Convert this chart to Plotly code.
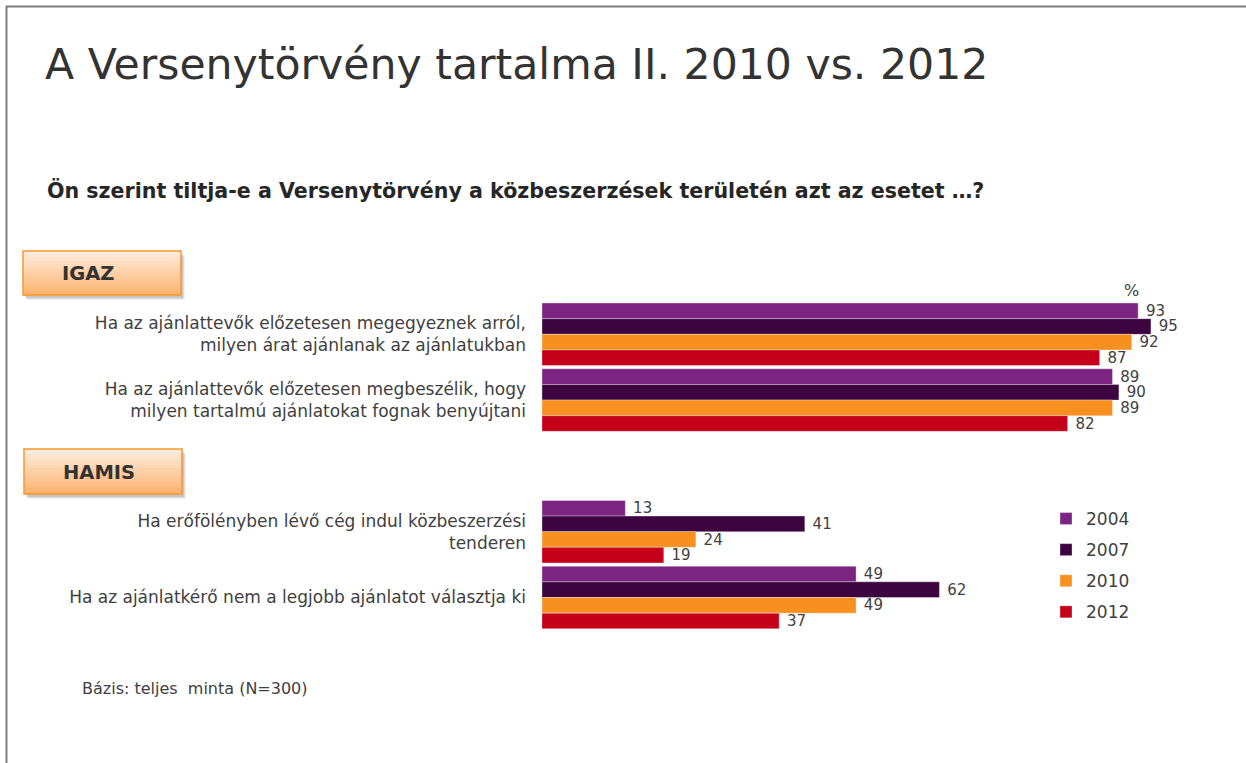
import plotly.graph_objects as go

W, H = 1246, 763

categories = [
    "Ha az ajánlattevők előzetesen megegyeznek arról,<br>milyen árat ajánlanak az ajánlatukban",
    "Ha az ajánlattevők előzetesen megbeszélik, hogy<br>milyen tartalmú ajánlatokat fognak benyújtani",
    "Ha erőfölényben lévő cég indul közbeszerzési<br>tenderen",
    "Ha az ajánlatkérő nem a legjobb ajánlatot választja ki",
]
sections = ["IGAZ", "IGAZ", "HAMIS", "HAMIS"]
years = ["2004", "2007", "2010", "2012"]
v2004 = [93, 89, 13, 49]
v2007 = [95, 90, 41, 62]
v2010 = [92, 89, 24, 49]
v2012 = [87, 82, 19, 37]
series = [v2004, v2007, v2010, v2012]
colors = ["#7B2481", "#3C0540", "#F7901E", "#C5001A"]

# slot positions: leave an empty slot between the IGAZ and HAMIS blocks
slots = []
s = 0
prev = sections[0]
for sec in sections:
    if sec != prev:
        s += 1
        prev = sec
    slots.append(s)
    s += 1

FONT = "DejaVu Sans"
TXT = "#404040"

fig = go.Figure()
for yr, vals, col in zip(years, series, colors):
    fig.add_trace(go.Bar(
        y=slots, x=vals, name=yr, orientation="h",
        marker=dict(color=col, line=dict(color="rgba(255,255,255,0.55)", width=0.6)),
        text=vals, texttemplate="\u00a0%{x}", textposition="outside",
        textfont=dict(family=FONT, size=15, color=TXT),
        cliponaxis=False, constraintext="none",
        legendgroup=yr,
    ))


def px(x):
    return x / W


def py(y):
    return 1 - y / H


shapes = []
# frame lines
shapes.append(dict(type="line", xref="paper", yref="paper", x0=px(6), x1=px(1246), y0=py(6.5), y1=py(6.5),
                   line=dict(color="#7F7F7F", width=2)))
shapes.append(dict(type="line", xref="paper", yref="paper", x0=px(6.5), x1=px(6.5), y0=py(6), y1=py(763),
                   line=dict(color="#7F7F7F", width=2)))


def label_box(x0, y0, x1, y1):
    out = []
    # soft shadow
    for off, a in [(5, 0.06), (4, 0.08), (3, 0.10)]:
        out.append(dict(type="rect", xref="paper", yref="paper",
                        x0=px(x0 + off - 1), x1=px(x1 + off - 1), y0=py(y0 + off), y1=py(y1 + off),
                        fillcolor=f"rgba(0,0,0,{a})", line=dict(width=0), layer="below"))
    # gradient fill (stepped)
    n = 14
    top = (254, 236, 220)
    bot = (251, 180, 112)
    for i in range(n):
        t = i / (n - 1)
        c = tuple(int(round(top[k] + (bot[k] - top[k]) * t)) for k in range(3))
        ya = y0 + (y1 - y0) * i / n
        yb = y0 + (y1 - y0) * (i + 1) / n
        out.append(dict(type="rect", xref="paper", yref="paper",
                        x0=px(x0), x1=px(x1), y0=py(ya), y1=py(yb + 0.5),
                        fillcolor=f"rgb{c}", line=dict(width=0), layer="below"))
    out.append(dict(type="rect", xref="paper", yref="paper",
                    x0=px(x0), x1=px(x1), y0=py(y0), y1=py(y1),
                    fillcolor="rgba(0,0,0,0)", line=dict(color="#F7962F", width=1.5), layer="below"))
    return out


shapes += label_box(23, 251, 181, 295)
shapes += label_box(24, 449, 182, 494)

annotations = [
    dict(text="A Versenytörvény tartalma II. 2010 vs. 2012", x=px(43), y=py(64), xref="paper", yref="paper",
         xanchor="left", yanchor="middle", showarrow=False,
         font=dict(family=FONT, size=42.6, color="#333333")),
    dict(text="<b>Ön szerint tiltja-e a Versenytörvény a közbeszerzések területén azt az esetet …?</b>",
         x=px(45), y=py(190), xref="paper", yref="paper", xanchor="left", yanchor="middle", showarrow=False,
         font=dict(family=FONT, size=20.6, color="#262626")),
    dict(text="<b>IGAZ</b>", x=px(60), y=py(273), xref="paper", yref="paper", xanchor="left", yanchor="middle",
         showarrow=False, font=dict(family=FONT, size=19.5, color="#333333")),
    dict(text="<b>HAMIS</b>", x=px(61), y=py(472), xref="paper", yref="paper", xanchor="left", yanchor="middle",
         showarrow=False, font=dict(family=FONT, size=19.5, color="#333333")),
    dict(text="%", x=px(1131), y=py(290), xref="paper", yref="paper", xanchor="center", yanchor="middle",
         showarrow=False, font=dict(family=FONT, size=16, color=TXT)),
    dict(text="Bázis: teljes\u00a0 minta (N=300)", x=px(80), y=py(688), xref="paper", yref="paper",
         xanchor="left", yanchor="middle", showarrow=False, font=dict(family=FONT, size=16, color=TXT)),
]

fig.update_layout(
    width=W, height=H,
    margin=dict(l=0, r=0, t=0, b=0),
    paper_bgcolor="white", plot_bgcolor="white",
    barmode="group", bargap=0.05, bargroupgap=0,
    xaxis=dict(domain=[px(542), px(1183)], range=[0, 100], visible=False, fixedrange=True),
    yaxis=dict(domain=[py(630.4), py(301.4)], range=[4.5, -0.5],
               tickmode="array", tickvals=slots, ticktext=categories,
               showgrid=False, zeroline=False, showline=False, ticks="",
               ticklabelstandoff=15, automargin=False,
               tickfont=dict(family=FONT, size=17, color=TXT)),
    legend=dict(x=px(1046), y=py(501), xanchor="left", yanchor="top",
                font=dict(family=FONT, size=17, color=TXT), traceorder="grouped",
                tracegroupgap=6, bgcolor="rgba(0,0,0,0)"),
    showlegend=True,
    shapes=shapes,
    annotations=annotations,
)

fig.write_html("out.html")
